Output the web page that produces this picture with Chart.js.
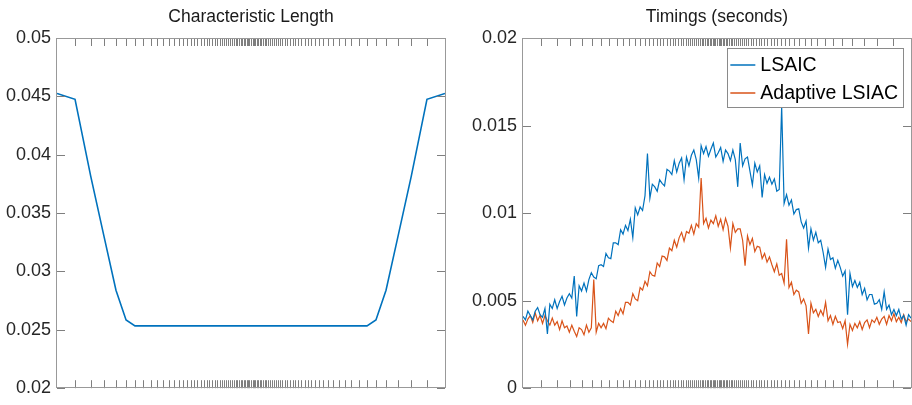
<!DOCTYPE html>
<html><head><meta charset="utf-8">
<script src="https://cdn.jsdelivr.net/npm/chart.js@4.4.1/dist/chart.umd.min.js"></script>
<style>
html,body{margin:0;padding:0;background:#fff;width:912px;height:405px;overflow:hidden}
canvas{position:absolute;top:0}
#c1{left:0}#c2{left:456px}
</style></head>
<body>
<canvas id="c1" width="456" height="405"></canvas>
<canvas id="c2" width="456" height="405"></canvas>
<script>
const leftTitle = 'Characteristic Length';
const rightTitle = 'Timings (seconds)';
const seriesNames = ['LSAIC', 'Adaptive LSIAC'];

// mesh node positions (also the x tick marks), normalized to [-1, 1]
const xTicks = [-0.907,-0.826,-0.756,-0.696,-0.644,-0.598,-0.555,-0.517,-0.483,-0.452,-0.423,-0.397,-0.373,-0.351,-0.330,-0.311,-0.294,-0.277,-0.259,-0.244,-0.228,-0.215,-0.201,-0.187,-0.174,-0.161,-0.149,-0.138,-0.127,-0.117,-0.107,-0.097,-0.088,-0.079,-0.071,-0.062,-0.053,-0.045,-0.038,-0.031,-0.023,-0.015,-0.008,0,
0.008,0.015,0.023,0.031,0.038,0.045,0.053,0.062,0.071,0.079,0.088,0.097,0.107,0.117,0.127,0.138,0.149,0.161,0.174,0.187,0.201,0.215,0.228,0.244,0.259,0.277,0.294,0.311,0.330,0.351,0.373,0.397,0.423,0.452,0.483,0.517,0.555,0.598,0.644,0.696,0.756,0.826,0.907];
const meshNodes = [-1, ...xTicks, 1];
const charLength = [0.04525,0.04475,0.03814,0.03288,0.02839,0.02585,
0.02534,0.02534,0.02534,0.02534,0.02534,0.02534,0.02534,0.02534,0.02534,0.02534,
0.02534,0.02534,0.02534,0.02534,0.02534,0.02534,0.02534,0.02534,0.02534,0.02534,
0.02534,0.02534,0.02534,0.02534,0.02534,0.02534,0.02534,0.02534,0.02534,0.02534,
0.02534,0.02534,0.02534,0.02534,0.02534,0.02534,0.02534,0.02534,0.02534,0.02534,
0.02534,0.02534,0.02534,0.02534,0.02534,0.02534,0.02534,0.02534,0.02534,0.02534,
0.02534,0.02534,0.02534,0.02534,0.02534,0.02534,0.02534,0.02534,0.02534,0.02534,
0.02534,0.02534,0.02534,0.02534,0.02534,0.02534,0.02534,0.02534,0.02534,0.02534,
0.02534,0.02534,0.02534,0.02534,0.02534,0.02534,0.02534,
0.02585,0.02839,0.03288,0.03814,0.04475,0.04525];

const yTicksLeft = [0.02,0.025,0.03,0.035,0.04,0.045,0.05];
const yTicksRight = [0,0.005,0.01,0.015,0.02];

const lsaic = [0.0041,0.0039,0.0044,0.00415,0.0039,0.0044,0.0046,0.0042,0.00405,0.00455,
0.0031,0.0048,0.00455,0.00505,0.00455,0.00495,0.00525,0.00475,0.00515,0.0054,
0.00515,0.0064,0.0041,0.00585,0.00555,0.0060,0.00555,0.0062,0.0066,0.00635,
0.00625,0.0070,0.00705,0.00695,0.0077,0.00745,0.0074,0.0083,0.0083,0.0082,
0.00905,0.0088,0.0093,0.0090,0.00965,0.0086,0.0103,0.0099,0.01035,0.01015,
0.0110,0.0134,0.01085,0.01165,0.0115,0.01125,0.0119,0.0117,0.01155,0.0125,
0.0124,0.0122,0.0130,0.01235,0.01285,0.01315,0.0119,0.0132,0.0127,0.0133,
0.0136,0.01305,0.0120,0.01385,0.0134,0.0138,0.01325,0.01365,0.0140,0.0132,
0.01345,0.01375,0.01295,0.0136,0.0134,0.0130,0.0136,0.01305,0.0115,0.0140,
0.0127,0.0131,0.0132,0.0124,0.0116,0.01285,0.01235,0.0127,0.0109,0.0122,
0.0117,0.01205,0.01165,0.01195,0.01125,0.01135,0.0161,0.01055,0.01105,0.01045,
0.01075,0.00995,0.0102,0.01025,0.0095,0.00915,0.00955,0.0080,0.0091,0.00845,
0.0089,0.0083,0.00845,0.00775,0.0069,0.00795,0.00735,0.00745,0.00685,0.0073,
0.0069,0.0064,0.0067,0.0042,0.00655,0.0058,0.00615,0.00575,0.00605,0.00535,
0.0057,0.00505,0.00535,0.00535,0.0048,0.00485,0.00505,0.0045,0.0055,0.0045,
0.00475,0.0042,0.0045,0.00415,0.0045,0.00395,0.00415,0.0036,0.0042,0.0040];

const adaptiveLsiac = [0.0039,0.0036,0.00395,0.00415,0.00375,0.0043,0.00385,0.00415,0.0037,0.00415,
0.00385,0.0036,0.0040,0.0036,0.0038,0.00335,0.00385,0.00345,0.00355,0.0032,
0.0036,0.00325,0.00295,0.00345,0.00335,0.00305,0.0036,0.0032,0.00345,0.0062,
0.0032,0.0037,0.00345,0.0037,0.0034,0.0040,0.00385,0.00375,0.0044,0.00415,
0.00455,0.00425,0.0049,0.0049,0.00475,0.0054,0.0051,0.0050,0.00575,0.0056,
0.0061,0.00585,0.00665,0.00645,0.0064,0.00715,0.00695,0.00755,0.0075,0.0073,
0.0080,0.00785,0.00845,0.00805,0.0086,0.0089,0.0084,0.00895,0.00885,0.0093,
0.0088,0.0094,0.0092,0.0120,0.0094,0.0097,0.00915,0.0096,0.0094,0.00985,
0.00925,0.00965,0.00905,0.0097,0.00925,0.0080,0.0094,0.0089,0.0091,0.0091,
0.00845,0.0070,0.0087,0.0082,0.00855,0.0078,0.0081,0.00805,0.0074,0.0077,
0.0072,0.0075,0.00705,0.00665,0.0071,0.00645,0.00655,0.0060,0.0085,0.00575,
0.00605,0.00535,0.0056,0.0055,0.00485,0.0051,0.0047,0.0031,0.00485,0.0043,
0.0045,0.0041,0.00445,0.00415,0.0049,0.00385,0.00415,0.00365,0.0041,0.00375,
0.0038,0.0034,0.00385,0.0025,0.00365,0.0033,0.0037,0.00345,0.0038,0.00335,
0.00375,0.0039,0.00345,0.0039,0.00375,0.00405,0.00365,0.00395,0.0041,0.00365,
0.00415,0.00385,0.00425,0.0038,0.00405,0.00375,0.0042,0.0038,0.00395,0.0038];

const BLUE = '#0072BD', ORANGE = '#D95319';
const FONT = '"Liberation Sans", Arial, sans-serif';

function framePlugin(title, tickScaleId, legend) {
  return {
    id: 'frame',
    afterDraw(chart) {
      const {ctx, chartArea: a} = chart;
      const xs = chart.scales[tickScaleId], ys = chart.scales.y;
      ctx.save();
      ctx.lineWidth = 1;
      ctx.strokeStyle = '#7f7f7f';
      ctx.beginPath();
      for (const t of xTicks) {
        const p = Math.round(xs.getPixelForValue(t)) + 0.5;
        ctx.moveTo(p, a.bottom); ctx.lineTo(p, a.bottom - 8);
        ctx.moveTo(p, a.top); ctx.lineTo(p, a.top + 8);
      }
      for (const t of ys.ticks) {
        const p = Math.round(ys.getPixelForValue(t.value)) + 0.5;
        ctx.moveTo(a.left, p); ctx.lineTo(a.left + 8, p);
        ctx.moveTo(a.right, p); ctx.lineTo(a.right - 8, p);
      }
      ctx.stroke();
      ctx.strokeStyle = '#999999';
      ctx.strokeRect(Math.round(a.left) - 0.5, Math.round(a.top) + 0.5, Math.round(a.width) + 1, Math.round(a.height) - 1);
      ctx.fillStyle = '#1a1a1a';
      ctx.font = '17.5px ' + FONT;
      ctx.textAlign = 'center';
      ctx.textBaseline = 'middle';
      ctx.fillText(title, (a.left + a.right) / 2, 17);
      if (legend) {
        ctx.font = '19.5px ' + FONT;
        const ds = chart.data.datasets;
        const tw = Math.max(...ds.map(d => ctx.measureText(d.label).width));
        const w = 3 + 25 + 5 + tw + 5;
        const right = a.right - 8, top = a.top + 10, h = 59;
        const left = right - w;
        ctx.fillStyle = '#ffffff';
        ctx.fillRect(Math.round(left) + 0.5, top + 0.5, Math.round(w), h);
        ctx.strokeStyle = '#8a8a8a';
        ctx.lineWidth = 1;
        ctx.strokeRect(Math.round(left) + 0.5, top + 0.5, Math.round(w), h);
        ds.forEach((d, i) => {
          const cy = top + 17 + i * 28;
          ctx.strokeStyle = d.borderColor;
          ctx.lineWidth = 1.5;
          ctx.beginPath();
          ctx.moveTo(left + 3, cy); ctx.lineTo(left + 28, cy);
          ctx.stroke();
          ctx.fillStyle = '#000';
          ctx.textAlign = 'left';
          ctx.fillText(d.label, left + 33, cy + 1);
        });
      }
      ctx.restore();
    }
  };
}

function yAxis(min, max, ticks, width) {
  return {
    type: 'linear', min, max,
    afterBuildTicks: s => { s.ticks = ticks.map(v => ({value: v})); },
    afterFit: s => { s.width = width; },
    grid: {display: false, drawTicks: false},
    border: {display: false},
    ticks: {padding: 6, color: '#262626', font: {family: FONT, size: 18}, callback: v => String(v)}
  };
}

Chart.defaults.animation = false;

new Chart(document.getElementById('c1'), {
  type: 'line',
  data: {
    datasets: [{
      label: leftTitle,
      data: meshNodes.map((x, i) => ({x, y: charLength[i]})),
      borderColor: BLUE, borderWidth: 1.6, pointRadius: 0, tension: 0, fill: false
    }]
  },
  options: {
    responsive: false,
    layout: {padding: {left: 0, right: 11, top: 38, bottom: 13}},
    plugins: {legend: {display: false}, tooltip: {enabled: false}, title: {display: false}},
    scales: {
      x: {type: 'linear', min: -1, max: 1, display: false},
      y: yAxis(0.02, 0.05, yTicksLeft, 57)
    }
  },
  plugins: [framePlugin(leftTitle, 'x', false)]
});

new Chart(document.getElementById('c2'), {
  type: 'line',
  data: {
    labels: lsaic.map((_, i) => i),
    datasets: [
      {label: seriesNames[0], data: lsaic, borderColor: BLUE, borderWidth: 1.2, pointRadius: 0, tension: 0, fill: false, xAxisID: 'x'},
      {label: seriesNames[1], data: adaptiveLsiac, borderColor: ORANGE, borderWidth: 1.2, pointRadius: 0, tension: 0, fill: false, xAxisID: 'x'}
    ]
  },
  options: {
    responsive: false,
    layout: {padding: {left: 0, right: 1, top: 38, bottom: 13}},
    plugins: {legend: {display: false}, tooltip: {enabled: false}, title: {display: false}},
    scales: {
      x: {type: 'category', display: false, offset: false},
      xt: {type: 'linear', axis: 'x', position: 'bottom', min: -1, max: 1, display: false},
      y: yAxis(0, 0.02, yTicksRight, 67)
    }
  },
  plugins: [framePlugin(rightTitle, 'xt', true)]
});
</script>
</body></html>
